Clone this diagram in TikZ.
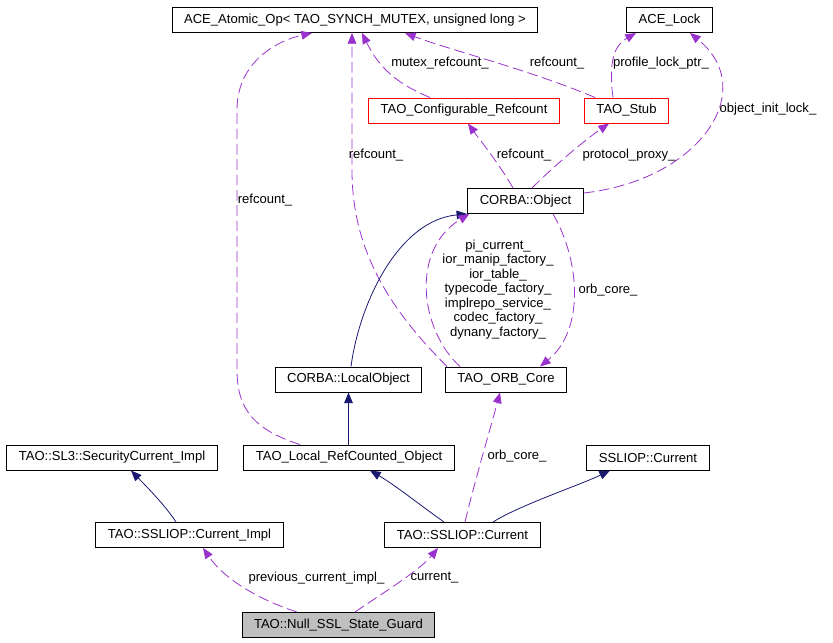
\documentclass[tikz,border=0pt]{standalone}
\usepackage{fontspec}
\setmainfont{Liberation Sans}
\usepackage{tikz}
\usetikzlibrary{calc, arrows.meta}
\definecolor{inhblue}{HTML}{191970}
\definecolor{usepurple}{HTML}{9A32CD}
\definecolor{boxgray}{HTML}{BFBFBF}
\tikzset{
	cls/.style={draw, rectangle, line width=0.75pt, inner xsep=9pt, inner ysep=0pt, minimum height=18.75pt, font=\fontsize{9.8}{11}\selectfont},
	extcls/.style={cls, draw=red},
	inh/.style={inhblue, line width=0.6pt, -{Triangle[length=8pt, width=6.5pt]}},
	uses/.style={usepurple, line width=0.6pt, dash pattern=on 8pt off 3.5pt, -{Triangle[length=8pt, width=6.5pt]}},
	lbl/.style={inner sep=0pt, font=\fontsize{9.8}{10.9}\selectfont, align=center},
}

\begin{document}
\begin{tikzpicture}[x=0.75pt, y=-0.75pt]
	\useasboundingbox (0,0) rectangle (833,643);
	\node[cls] (atomic) at (355,20) {ACE\_Atomic\_Op< TAO\_SYNCH\_MUTEX, unsigned long >};
	\node[cls] (lock) at (669.5,20) {ACE\_Lock};
	\node[extcls] (cfgref) at (464,110.5) {TAO\_Configurable\_Refcount};
	\node[extcls] (stub) at (626.5,110.5) {TAO\_Stub};
	\node[cls] (object) at (525.5,201) {CORBA::Object};
	\node[cls] (localobj) at (348.5,379.5) {CORBA::LocalObject};
	\node[cls] (orbcore) at (506,379.5) {TAO\_ORB\_Core};
	\node[cls] (sl3) at (112,457.5) {TAO::SL3::SecurityCurrent\_Impl};
	\node[cls] (localref) at (349,457.5) {TAO\_Local\_RefCounted\_Object};
	\node[cls] (sslcur) at (648,457.5) {SSLIOP::Current};
	\node[cls] (curimpl) at (189.5,535) {TAO::SSLIOP::Current\_Impl};
	\node[cls] (taocur) at (462.5,535) {TAO::SSLIOP::Current};
	\node[cls, fill=boxgray] (guard) at (338.5,625) {TAO::Null\_SSL\_State\_Guard};

	\draw[uses] ($(localref.north)+(-49,0)$) .. controls (255,430) and (237,410) .. (237,370) -- (237,110) .. controls (237,60) and (280,40) .. ($(atomic.south)+(-43,0)$);
	\draw[uses] ($(orbcore.north)+(-59,0)$) .. controls (380,300) and (352,240) .. (352,170) -- ($(atomic.south)+(-3,0)$);
	\draw[uses] ($(cfgref.north)+(-34,0)$) .. controls (400,85) and (380,70) .. ($(atomic.south)+(7,0)$);
	\draw[uses] ($(stub.north)+(-31.5,0)$) .. controls (530,70) and (450,50) .. ($(atomic.south)+(50,0)$);
	\draw[uses] ($(stub.north)+(-13.5,0)$) .. controls (608,60) and (615,45) .. ($(lock.south)+(-33.5,0)$);
	\draw[uses] ($(object.east)+(0,-8)$) .. controls (700,180) and (760,90) .. ($(lock.south)+(20.5,0)$);
	\draw[uses] ($(object.north)+(-12.5,0)$) .. controls (500,165) and (480,140) .. ($(cfgref.south)+(4,0)$);
	\draw[uses] ($(object.north)+(6.5,0)$) .. controls (555,165) and (585,140) .. ($(stub.south)+(-17.5,0)$);
	\draw[inh] ($(localobj.north)+(2.5,0)$) .. controls (360,300) and (400,220) .. (object.south west);
	\draw[uses] ($(orbcore.north)+(-46,0)$) .. controls (420,330) and (410,250) .. ($(object.south west)+(2,0)$);
	\draw[uses] ($(object.south)+(27.5,0)$) .. controls (580,260) and (585,330) .. ($(orbcore.north)+(34,0)$);
	\draw[inh] (localref.north -| localobj.south) -- (localobj.south);
	\draw[inh] ($(curimpl.north)+(-13.5,0)$) .. controls (165,505) and (145,485) .. ($(sl3.south)+(19,0)$);
	\draw[inh] ($(taocur.north)+(-18.5,0)$) .. controls (420,505) and (395,485) .. ($(localref.south)+(21,0)$);
	\draw[inh] ($(taocur.north)+(30.5,0)$) .. controls (520,505) and (580,485) .. ($(sslcur.south)+(-38,0)$);
	\draw[uses] ($(taocur.north)+(2.5,0)$) .. controls (475,480) and (490,430) .. ($(orbcore.south)+(-6,0)$);
	\draw[uses] ($(guard.north)+(-41.5,0)$) .. controls (260,600) and (225,580) .. ($(curimpl.south)+(13.5,0)$);
	\draw[uses] ($(guard.north)+(16.5,0)$) .. controls (380,595) and (420,570) .. ($(taocur.south)+(-24.5,0)$);

	\node[lbl] (lb-lref) at (265,200) {refcount\_};
	\node[lbl] (lb-oref) at (376,155) {refcount\_};
	\node[lbl] (lb-mutex) at (440,63) {mutex\_refcount\_};
	\node[lbl] (lb-sref) at (557,63) {refcount\_};
	\node[lbl] (lb-plock) at (661,63) {profile\_lock\_ptr\_};
	\node[lbl] (lb-ilock) at (768,109) {object\_init\_lock\_};
	\node[lbl] (lb-cref) at (524,155) {refcount\_};
	\node[lbl] (lb-proxy) at (629,155) {protocol\_proxy\_};
	\node[lbl] (lb-svc) at (498,289.5) {pi\_current\_\\ior\_manip\_factory\_\\ior\_table\_\\typecode\_factory\_\\implrepo\_service\_\\codec\_factory\_\\dynany\_factory\_};
	\node[lbl] (lb-core) at (608,290) {orb\_core\_};
	\node[lbl] (lb-tcore) at (517,456) {orb\_core\_};
	\node[lbl] (lb-prev) at (316.5,578) {previous\_current\_impl\_};
	\node[lbl] (lb-cur) at (434.5,578) {current\_};
\end{tikzpicture}
\end{document}
